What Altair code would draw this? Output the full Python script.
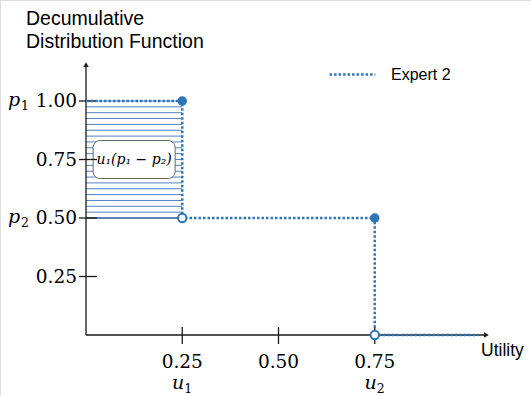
import altair as alt
import pandas as pd
import numpy as np

# ---- data ----
u_vals = [0.25, 0.75]          # u1, u2
p_vals = [1.0, 0.5]            # p1, p2
u_subs = ["1", "2"]
p_subs = ["1", "2"]
x_ticks = [0.25, 0.50, 0.75]
y_ticks = [0.25, 0.50, 0.75, 1.00]
x_end = 1.02
series_name = "Expert 2"

BLUE = "#2E75B6"
HATCH = "#4F81C7"
AX = "#1a1a1a"
SERIF = "DejaVu Serif"
SANS = "Liberation Sans"

xs = alt.Scale(domain=[0, 1], range=[86, 471], clamp=False, nice=False, zero=False)
ys = alt.Scale(domain=[0, 1], range=[335, 101], clamp=False, nice=False, zero=False)

# step line
step = pd.DataFrame({
    "x": [0, u_vals[0], u_vals[0], u_vals[1], u_vals[1], x_end],
    "y": [p_vals[0], p_vals[0], p_vals[1], p_vals[1], 0, 0],
    "o": list(range(6)),
    "series": [series_name] * 6,
})
filled = pd.DataFrame({"x": u_vals, "y": p_vals})
opened = pd.DataFrame({"x": u_vals, "y": [p_vals[1], 0]})

hatch = pd.DataFrame({"y": np.linspace(p_vals[1], p_vals[0], 21)[1:], "x0": 0, "x1": u_vals[0]})
xt = pd.DataFrame({"v": x_ticks, "lab": [f"{v:.2f}" for v in x_ticks]})
yt = pd.DataFrame({"v": y_ticks, "lab": [f"{v:.2f}" for v in y_ticks]})
ul = pd.DataFrame({"v": u_vals, "lab": ["u"] * 2, "sub": u_subs})
pl = pd.DataFrame({"v": p_vals, "lab": ["p"] * 2, "sub": p_subs})
ann = pd.DataFrame({"cx": [u_vals[0] / 2], "cy": [(p_vals[0] + p_vals[1]) / 2],
                    "lab": ["u₁(p₁ − p₂)"]})

X = lambda f: alt.X(f, type="quantitative", scale=xs, axis=None)
Y = lambda f: alt.Y(f, type="quantitative", scale=ys, axis=None)

hatch_l = alt.Chart(hatch).mark_rule(color=HATCH, strokeWidth=1).encode(
    x=X("x0"), x2="x1", y=Y("y"))
base_l = alt.Chart(pd.DataFrame({"y": [p_vals[1]], "x0": [0], "x1": [u_vals[0]]})).mark_rule(
    color="#2F5597", strokeWidth=1.5).encode(x=X("x0"), x2="x1", y=Y("y"))

box = alt.Chart(ann).mark_rect(fill="white", stroke="#666666", strokeWidth=1, cornerRadius=7,
                               xOffset=-41, x2Offset=41, yOffset=-19, y2Offset=19).encode(
    x=X("cx"), x2="cx", y=Y("cy"), y2="cy")
box_t = alt.Chart(ann).mark_text(font=SERIF, fontStyle="italic", fontSize=14, color="black").encode(
    x=X("cx"), y=Y("cy"), text="lab")

# axes
xaxis = alt.Chart(pd.DataFrame({"a": [0], "b": [1.035], "y": [0]})).mark_rule(
    color=AX, strokeWidth=1.3).encode(x=X("a"), x2="b", y=Y("y"))
yaxis = alt.Chart(pd.DataFrame({"a": [0], "b": [1.15], "x": [0]})).mark_rule(
    color=AX, strokeWidth=1.3).encode(y=Y("a"), y2="b", x=X("x"))
xarrow = alt.Chart(pd.DataFrame({"x": [1.04], "y": [0]})).mark_point(
    shape="triangle-right", filled=True, color=AX, size=30, opacity=1).encode(x=X("x"), y=Y("y"))
yarrow = alt.Chart(pd.DataFrame({"x": [0], "y": [1.155]})).mark_point(
    shape="triangle-up", filled=True, color=AX, size=30, opacity=1).encode(x=X("x"), y=Y("y"))

xtick = alt.Chart(xt).mark_rule(color=AX, strokeWidth=1.3).encode(
    x=X("v"), y=alt.value(327), y2=alt.value(344))
ytick = alt.Chart(yt).mark_rule(color=AX, strokeWidth=1.3).encode(
    y=Y("v"), x=alt.value(79), x2=alt.value(97))
xlab = alt.Chart(xt).mark_text(font=SERIF, fontSize=18.5, color="black", baseline="middle").encode(
    x=X("v"), y=alt.value(362), text="lab")
ylab = alt.Chart(yt).mark_text(font=SERIF, fontSize=18.5, color="black", align="right",
                               baseline="middle").encode(
    y=Y("v"), x=alt.value(77), text="lab")

# math labels: italic letter + upright subscript
ulab = alt.Chart(ul).mark_text(font=SERIF, fontStyle="italic", fontSize=19, color="black",
                               baseline="alphabetic", align="right", dx=2).encode(
    x=X("v"), y=alt.value(389), text="lab")
usub = alt.Chart(ul).mark_text(font=SERIF, fontSize=12.5, color="black",
                               baseline="alphabetic", align="left", dx=2).encode(
    x=X("v"), y=alt.value(393), text="sub")
plab = alt.Chart(pl).mark_text(font=SERIF, fontStyle="italic", fontSize=19, color="black",
                               align="left", baseline="alphabetic", dy=5).encode(
    y=Y("v"), x=alt.value(8), text="lab")
psub = alt.Chart(pl).mark_text(font=SERIF, fontSize=12.5, color="black",
                               align="left", baseline="alphabetic", dy=9).encode(
    y=Y("v"), x=alt.value(21), text="sub")

line = alt.Chart(step).mark_line(strokeWidth=2.5, strokeDash=[2.5, 2]).encode(
    x=X("x"), y=Y("y"), order="o",
    color=alt.Color("series:N", scale=alt.Scale(domain=[series_name], range=[BLUE]),
                    legend=alt.Legend(orient="none", legendX=328, legendY=50, title=None,
                                      symbolType="stroke", symbolSize=2100,
                                      symbolStrokeWidth=2.5, symbolDash=[2.5, 2],
                                      symbolStrokeColor=BLUE,
                                      labelFont=SANS, labelFontSize=16, labelColor="black",
                                      labelOffset=14)))
pf = alt.Chart(filled).mark_point(filled=True, color=BLUE, size=90, opacity=1).encode(
    x=X("x"), y=Y("y"))
po = alt.Chart(opened).mark_point(filled=True, fill="white", stroke=BLUE, strokeWidth=2,
                                  size=70, opacity=1).encode(x=X("x"), y=Y("y"))

title = alt.Chart(pd.DataFrame({"t": [0]})).mark_text(
    text="Decumulative\nDistribution Function", lineBreak="\n", font=SANS, fontSize=19.5,
    color="black", align="left", baseline="alphabetic", lineHeight=23).encode(
    x=alt.value(26), y=alt.value(25))
util = alt.Chart(pd.DataFrame({"t": [0]})).mark_text(
    text="Utility", font=SANS, fontSize=17.5, color="black", align="left",
    baseline="alphabetic").encode(x=alt.value(481), y=alt.value(356))

chart = alt.layer(
    hatch_l, base_l, box, box_t, xaxis, yaxis, xarrow, yarrow, xtick, ytick,
    xlab, ylab, ulab, usub, plab, psub, line, po, pf, title, util
).properties(
    width=531, height=396, autosize=alt.AutoSizeParams(type="none"), padding=0
).configure_view(stroke=None).configure(background="white")

chart.save("out.html", embed_options={"renderer": "svg", "actions": False})
